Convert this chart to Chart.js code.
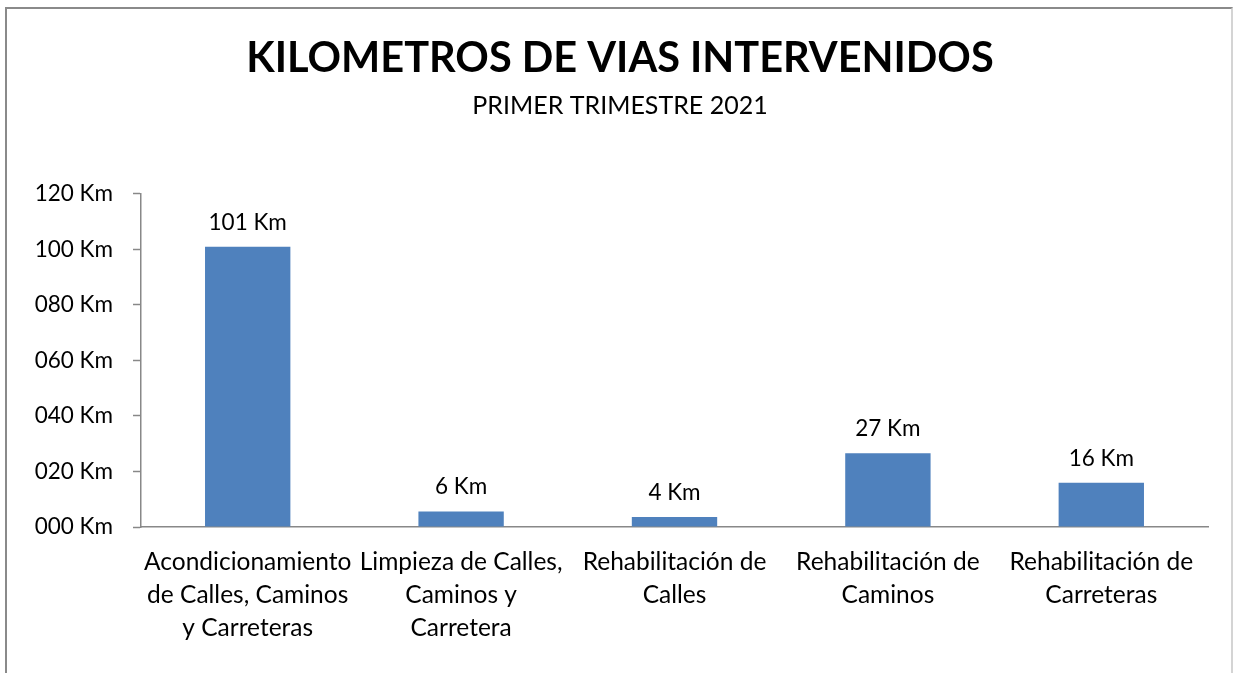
<!DOCTYPE html>
<html>
<head>
<meta charset="utf-8">
<script src="https://cdn.jsdelivr.net/npm/chart.js@4.4.1/dist/chart.umd.min.js"></script>
<style>
  body { margin: 0; background: #fff; }
  #wrap { position: relative; width: 1233px; height: 673px; overflow: hidden; }
  #frame {
    position: absolute; left: 5px; top: 7px; width: 1224px; height: 700px;
    border-top: 2px solid #8a8a8a; border-left: 2px solid #8a8a8a; border-right: 2px solid #d4d4d4;
    pointer-events: none;
  }
</style>
</head>
<body>
<div id="wrap">
  <canvas id="chart" width="1233" height="673"></canvas>
  <div id="frame"></div>
</div>
<script>
const categories = [
  ['Acondicionamiento', 'de Calles, Caminos', 'y Carreteras'],
  ['Limpieza de Calles,', 'Caminos y', 'Carretera'],
  ['Rehabilitación de', 'Calles'],
  ['Rehabilitación de', 'Caminos'],
  ['Rehabilitación de', 'Carreteras']
];
const kilometros = [100.9, 5.6, 3.6, 26.6, 15.9];
const tickValues = [0, 20, 40, 60, 80, 100, 120];

const FONT = 'Lato, Carlito, Calibri, sans-serif';

// etiquetas de datos encima de cada barra
const barLabels = {
  id: 'barLabels',
  afterDatasetsDraw(chart) {
    const ctx = chart.ctx;
    const meta = chart.getDatasetMeta(0);
    ctx.save();
    ctx.font = '22.5px ' + FONT;
    ctx.fillStyle = '#000';
    ctx.textAlign = 'center';
    ctx.textBaseline = 'bottom';
    meta.data.forEach((bar, i) => {
      ctx.fillText(Math.round(kilometros[i]) + ' Km', bar.x, bar.y - 13);
    });
    ctx.restore();
  }
};

new Chart(document.getElementById('chart'), {
  type: 'bar',
  data: {
    labels: categories,
    datasets: [{
      data: kilometros,
      backgroundColor: '#4f81bd',
      borderWidth: 0,
      barPercentage: 0.8,
      categoryPercentage: 0.5
    }]
  },
  options: {
    responsive: false,
    animation: false,
    layout: { padding: { left: 32, right: 25, bottom: 0 } },
    scales: {
      x: {
        grid: { display: false, drawTicks: false },
        border: { color: '#888', width: 1.5 },
        ticks: {
          color: '#000',
          font: { family: FONT, size: 24.5, lineHeight: 1.36 },
          padding: 18,
          maxRotation: 0,
          autoSkip: false
        },
        afterFit(scale) { scale.height = 146; }
      },
      y: {
        min: 0,
        max: 120,
        afterBuildTicks(scale) { scale.ticks = tickValues.map(v => ({ value: v })); },
        grid: { display: true, drawOnChartArea: false, tickLength: 8, color: '#888', tickWidth: 1.5 },
        border: { color: '#888', width: 1.5 },
        ticks: {
          color: '#000',
          font: { family: FONT, size: 22.5 },
          padding: 20,
          callback: v => String(v).padStart(3, '0') + ' Km'
        },
        afterFit(scale) { scale.width = 109; }
      }
    },
    plugins: {
      legend: { display: false },
      tooltip: { enabled: false },
      title: {
        display: true,
        text: 'KILOMETROS DE VIAS INTERVENIDOS',
        color: '#000',
        font: { family: FONT, size: 41.5, weight: 'bold', lineHeight: 1.2 },
        padding: { top: 34, bottom: 0 }
      },
      subtitle: {
        display: true,
        text: 'PRIMER TRIMESTRE 2021',
        color: '#000',
        font: { family: FONT, size: 25, lineHeight: 1.2 },
        padding: { top: 7, bottom: 73 }
      }
    }
  },
  plugins: [barLabels]
});
</script>
</body>
</html>
